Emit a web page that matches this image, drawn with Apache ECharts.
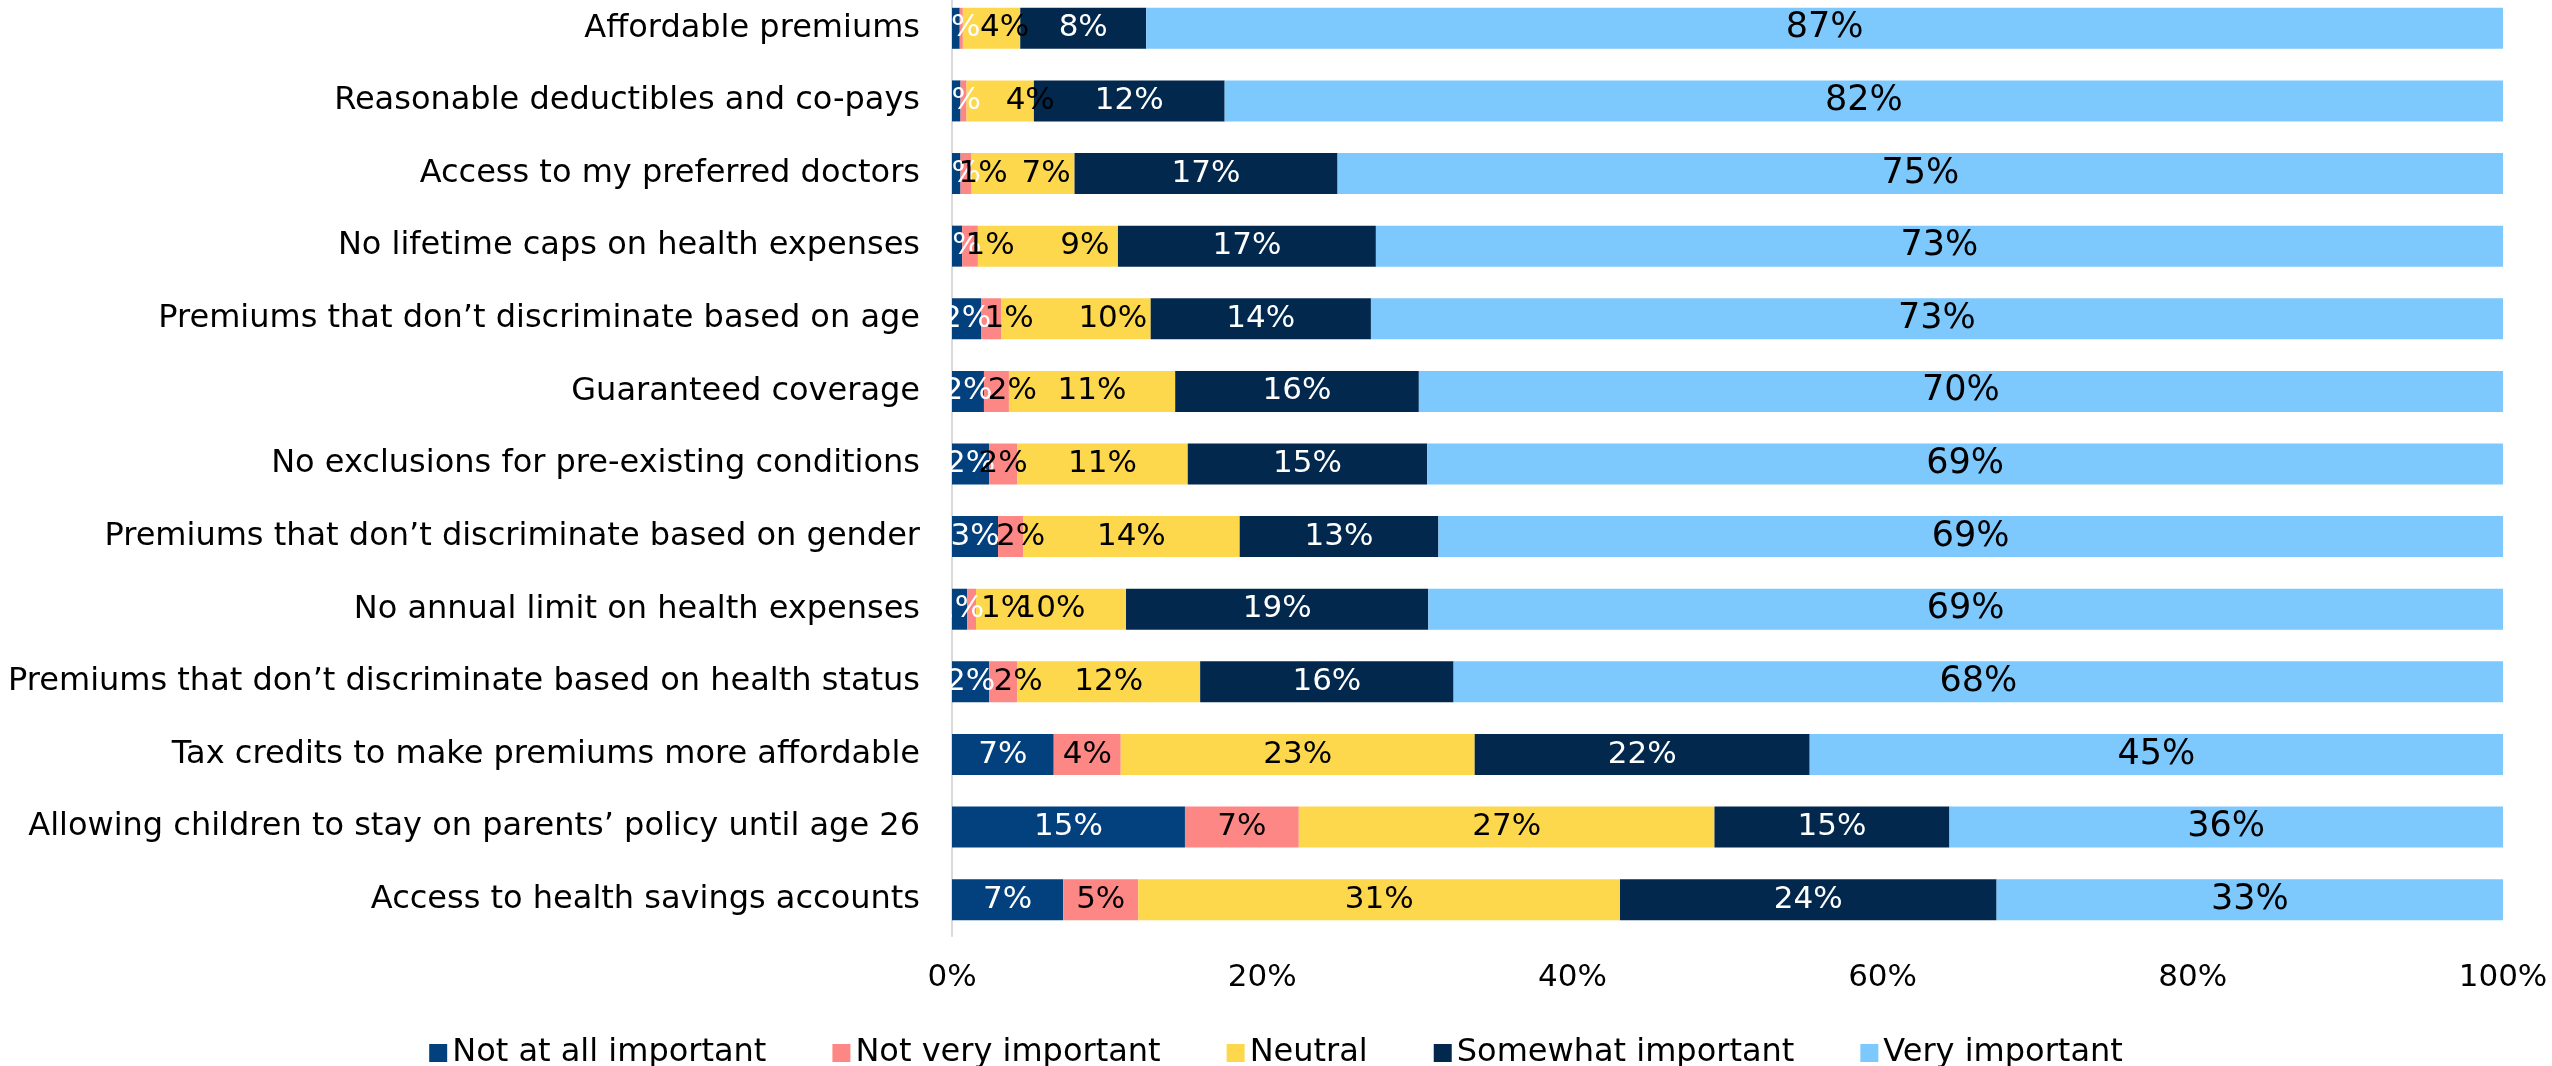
<!DOCTYPE html>
<html>
<head>
<meta charset="utf-8">
<script src="https://cdn.jsdelivr.net/npm/echarts@6/dist/echarts.min.js"></script>
<style>
  html, body { margin: 0; padding: 0; background: #fff; overflow: hidden; }
  /* shifted up a little: first bar sits almost on the top edge */
  #chart { position: absolute; left: 0; top: -8px; width: 2552px; height: 1074px; }
</style>
</head>
<body>
<div id="chart"></div>
<script>
// categories, top to bottom
const categories = [
  'Affordable premiums',
  'Reasonable deductibles and co-pays',
  'Access to my preferred doctors',
  'No lifetime caps on health expenses',
  'Premiums that don’t discriminate based on age',
  'Guaranteed coverage',
  'No exclusions for pre-existing conditions',
  'Premiums that don’t discriminate based on gender',
  'No annual limit on health expenses',
  'Premiums that don’t discriminate based on health status',
  'Tax credits to make premiums more affordable',
  'Allowing children to stay on parents’ policy until age 26',
  'Access to health savings accounts'
];

// share of respondents (%)
const notAtAll = [0.5, 0.55, 0.55, 0.66, 1.87, 2.06, 2.39, 2.97, 0.97, 2.39, 6.56, 15.02, 7.17];
const notVery  = [0.2, 0.39, 0.71, 1.01, 1.29, 1.61, 1.81, 1.61, 0.58, 1.81, 4.32, 7.34, 4.84];
const neutral  = [3.7, 4.34, 6.64, 9.03, 9.65, 10.72, 11.0, 13.97, 9.67, 11.8, 22.82, 26.8, 31.06];
const somewhat = [8.12, 12.3, 16.96, 16.63, 14.2, 15.71, 15.43, 12.81, 19.49, 16.34, 21.6, 15.15, 24.28];
const veryImp  = [87.48, 82.42, 75.14, 72.67, 72.99, 69.9, 69.37, 68.64, 69.29, 67.66, 44.7, 35.69, 32.65];

const xTicks = [0, 20, 40, 60, 80, 100];

const FONT = 'DejaVu Sans';

// label nudges seen in the source chart (px, to the right)
const pinkShift = [0, 0, 17, 20, 18, 16, 0, 10, 34, 15, 0, 0, 0];
const yellowShift = [13, 30, 23, 37, 37, 0, 0, 0, 0, 0, 0, 0, 0];

function makeSeries(name, values, color, labelColor, fontSize, shift) {
  return {
    name,
    type: 'bar',
    stack: 'total',
    barWidth: 41,
    itemStyle: { color },
    label: {
      show: true,
      position: 'inside',
      color: labelColor,
      fontFamily: FONT,
      fontSize,
      formatter: p => {
        const r = Math.round(p.value);
        return r === 0 ? '' : r + '%';
      }
    },
    data: values.map((v, i) => shift && shift[i]
      ? { value: v, label: { offset: [shift[i], 0] } }
      : v)
  };
}

const chart = echarts.init(document.getElementById('chart'));

chart.setOption({
  animation: false,
  legend: {
    top: 1040,
    left: 'center',
    icon: 'rect',
    itemWidth: 18,
    itemHeight: 18,
    itemGap: 66,
    textStyle: { fontFamily: FONT, fontSize: 32, color: '#000' }
  },
  grid: { left: 952, right: 49, top: 0, bottom: 130 },
  xAxis: {
    type: 'value',
    min: 0,
    max: 100,
    interval: 20,
    axisLine: { show: false },
    axisTick: { show: false },
    splitLine: { show: false },
    axisLabel: {
      margin: 26,
      fontFamily: FONT,
      fontSize: 31,
      color: '#000',
      formatter: v => (xTicks.includes(v) ? v + '%' : '')
    }
  },
  yAxis: {
    type: 'category',
    inverse: true,
    data: categories,
    axisLine: { lineStyle: { color: '#d9d9d9', width: 2 } },
    axisTick: { show: false },
    axisLabel: {
      margin: 32,
      fontFamily: FONT,
      fontSize: 32,
      color: '#000'
    }
  },
  series: [
    makeSeries('Not at all important', notAtAll, '#03417e', '#fff', 31),
    makeSeries('Not very important', notVery, '#fd8785', '#000', 31, pinkShift),
    makeSeries('Neutral', neutral, '#fdd74c', '#000', 31, yellowShift),
    makeSeries('Somewhat important', somewhat, '#02284e', '#fff', 31),
    makeSeries('Very important', veryImp, '#7dc8fd', '#000', 35)
  ]
});
</script>
</body>
</html>
